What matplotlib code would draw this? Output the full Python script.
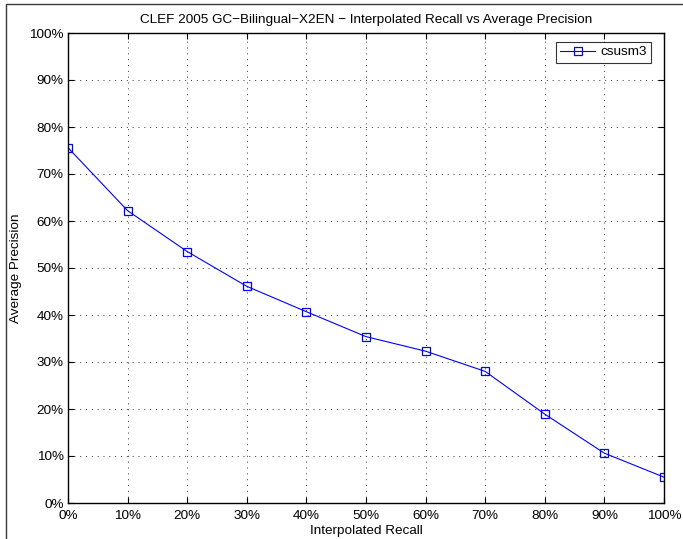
import matplotlib
matplotlib.use("Agg")
import matplotlib.pyplot as plt
from matplotlib.patches import Rectangle

plt.rcParams['font.family'] = ['Liberation Sans', 'DejaVu Sans']

recall = [0, 10, 20, 30, 40, 50, 60, 70, 80, 90, 100]
precision = [75.6, 62.2, 53.5, 46.1, 40.7, 35.4, 32.3, 28.0, 18.9, 10.6, 5.5]
series_name = "csusm3"
tick_values = [0, 10, 20, 30, 40, 50, 60, 70, 80, 90, 100]
tick_labels = ["0%", "10%", "20%", "30%", "40%", "50%", "60%", "70%", "80%", "90%", "100%"]
title = "CLEF 2005 GC\u2212Bilingual\u2212X2EN \u2212 Interpolated Recall vs Average Precision"

W, H = 683, 539
fig = plt.figure(figsize=(W / 100, H / 100), dpi=100)
fig.patch.set_facecolor('white')

# outer frame
fig.add_artist(Rectangle((5.5 / W, 0 - 0.1), 1.2, 1 - 4.5 / H + 0.1,
                         transform=fig.transFigure, fill=False,
                         edgecolor='#3a3a3a', linewidth=1.0))

left, right, top, bottom = 68, 664, 33, 503
ax = fig.add_axes([left / W, 1 - bottom / H, (right - left) / W, (bottom - top) / H])

ax.plot(recall, precision, color='blue', linewidth=0.8, marker='s',
        markersize=6, markerfacecolor='none', markeredgecolor='blue',
        markeredgewidth=0.9, label=series_name)

ax.set_xlim(0, 100)
ax.set_ylim(0, 100)
ax.set_xticks(tick_values)
ax.set_xticklabels(tick_labels)
ax.set_yticks(tick_values)
ax.set_yticklabels(tick_labels)
ax.grid(True, linestyle=(0, (1, 5)), color='#333333', linewidth=0.7)
ax.tick_params(direction='in', top=True, right=True, length=4, width=0.8,
               labelsize=9.7)
ax.tick_params(axis='x', pad=5)
ax.tick_params(axis='y', pad=3)
for s in ax.spines.values():
    s.set_linewidth(1.0)
    s.set_color('black')

ax.set_title(title, fontsize=9.7, pad=7)
ax.set_xlabel("Interpolated Recall", fontsize=9.7, labelpad=2)
ax.set_ylabel("Average Precision", fontsize=9.7, labelpad=5)

# legend box right edge at x=651, top at y=42
leg = ax.legend(loc='upper right', fontsize=9.7, frameon=True, fancybox=False,
                edgecolor='black', borderpad=0.3, handlelength=2.6,
                handletextpad=0.4, borderaxespad=0,
                bbox_to_anchor=((651 - left) / (right - left), 1 - (42 - top) / (bottom - top)))
leg.get_frame().set_linewidth(0.8)

fig.savefig("out.png", dpi=100, facecolor='white')
